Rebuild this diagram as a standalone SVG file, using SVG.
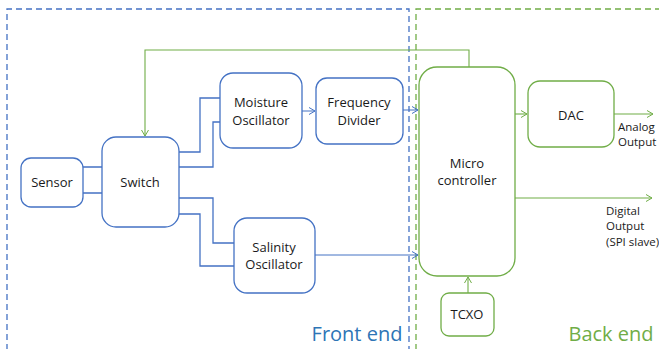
<svg xmlns="http://www.w3.org/2000/svg" width="659" height="349" viewBox="0 0 659 349">
<style>
.bn{fill:#fff;stroke:#4472C4;stroke-width:1.3}
.gn{fill:#fff;stroke:#70AD47;stroke-width:1.3}
.t{font-family:"Open Sans","Liberation Sans",sans-serif;font-size:13px;fill:#1a1a1a;text-anchor:middle}
.s{font-family:"Open Sans","Liberation Sans",sans-serif;font-size:11.5px;fill:#1a1a1a}
.bl{fill:none;stroke:#4472C4;stroke-width:1.3}
.bt{fill:none;stroke:#4472C4;stroke-width:1}
.gl{fill:none;stroke:#70AD47;stroke-width:1.1}
</style>
<defs>
<marker id="ab" markerWidth="8" markerHeight="8" refX="7" refY="4" orient="auto" markerUnits="userSpaceOnUse"><polyline points="1,0.5 7,4 1,7.5" fill="none" stroke="#4472C4" stroke-width="1"/></marker>
<marker id="ag" markerWidth="8" markerHeight="8" refX="7" refY="4" orient="auto" markerUnits="userSpaceOnUse"><polyline points="1,0.5 7,4 1,7.5" fill="none" stroke="#70AD47" stroke-width="1"/></marker>
</defs>
<rect width="659" height="349" fill="#fff"/>
<g id="regions">
<path d="M7,360 V9 H409 V360" fill="none" stroke="#4472C4" stroke-width="1.3" stroke-dasharray="6,4"/>
<path d="M416,360 V9 H670" fill="none" stroke="#70AD47" stroke-width="1.3" stroke-dasharray="6,4"/>
<text x="357" y="341" font-family="Open Sans, Liberation Sans, sans-serif" font-size="20" fill="#2E75B6" text-anchor="middle">Front end</text>
<text x="611" y="341" font-family="Open Sans, Liberation Sans, sans-serif" font-size="20" fill="#70AD47" text-anchor="middle">Back end</text>
</g>
<g id="connectors">
<path class="bl" d="M83,167 H102 M83,193 H102"/>
<path class="bl" d="M179,152 H200 V98 H220 M179,167 H213 V122 H220"/>
<path class="bl" d="M179,198 H213 V243 H234 M179,214 H200 V266 H234"/>
<path class="bt" d="M302,111 H315" marker-end="url(#ab)"/>
<path class="bt" d="M403,110 H418" marker-end="url(#ab)"/>
<path class="bt" d="M315,255 H418" marker-end="url(#ab)"/>
<path class="gl" d="M469,67 V50 H145 V136" marker-end="url(#ag)"/>
<path class="gl" d="M515,114 H527" marker-end="url(#ag)"/>
<path class="gl" d="M614,114 H653" marker-end="url(#ag)"/>
<path class="gl" d="M515,198 H652" marker-end="url(#ag)"/>
<path class="gl" d="M468,293 V277" marker-end="url(#ag)"/>
</g>
<g id="sensor"><rect class="bn" x="21" y="158" width="62" height="49" rx="10"/><text class="t" x="52" y="187">Sensor</text></g>
<g id="switch"><rect class="bn" x="102" y="137" width="77" height="90" rx="14"/><text class="t" x="140" y="187">Switch</text></g>
<g id="moisture"><rect class="bn" x="220" y="73" width="82" height="75" rx="13"/><text class="t" x="261" y="107">Moisture</text><text class="t" x="261" y="125">Oscillator</text></g>
<g id="divider"><rect class="bn" x="316" y="78" width="87" height="66" rx="11"/><text class="t" x="359" y="107">Frequency</text><text class="t" x="359" y="125">Divider</text></g>
<g id="salinity"><rect class="bn" x="234" y="218" width="81" height="75" rx="13"/><text class="t" x="274" y="252">Salinity</text><text class="t" x="274" y="269">Oscillator</text></g>
<g id="mcu"><rect class="gn" x="419" y="67" width="96" height="209" rx="18"/><text class="t" x="467" y="168">Micro</text><text class="t" x="467" y="185">controller</text></g>
<g id="dac"><rect class="gn" x="528" y="81" width="86" height="66" rx="12"/><text class="t" x="571" y="120">DAC</text></g>
<g id="tcxo"><rect class="gn" x="441" y="293" width="53" height="43" rx="8"/><text class="t" x="467" y="319">TCXO</text></g>
<g id="labels">
<text class="s" x="618" y="131">Analog</text><text class="s" x="618" y="146">Output</text>
<text class="s" x="606" y="215">Digital</text><text class="s" x="606" y="230">Output</text><text class="s" x="606" y="246">(SPI slave)</text>
</g>
</svg>
